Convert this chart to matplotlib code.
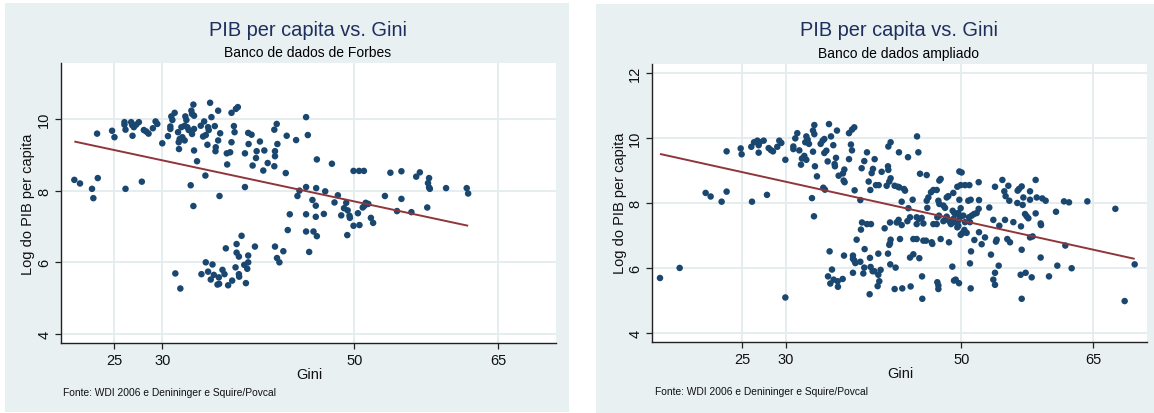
import matplotlib
matplotlib.use("Agg")
import matplotlib.pyplot as plt
from matplotlib.patches import Rectangle

plt.rcParams['font.family'] = ['Liberation Sans', 'DejaVu Sans']

# ---------------- data ----------------
title_text = "PIB per capita vs. Gini"
subtitles = ["Banco de dados de Forbes", "Banco de dados ampliado"]
x_label = "Gini"
y_label = "Log do PIB per capita"
source_note = "Fonte: WDI 2006 e Denininger e Squire/Povcal"

x_ticks = [25, 30, 50, 65]
y_ticks_left = [4, 6, 8, 10]
y_ticks_right = [4, 6, 8, 10, 12]

left_gini = [
    20.84, 21.43, 22.68, 22.82, 23.28, 23.21, 24.77, 25.02, 26.17, 26.06,
    26.06, 26.17, 26.76, 26.86, 27.04, 27.28, 27.56, 26.90, 27.87, 28.08,
    28.33, 28.57, 29.02, 29.30, 29.48, 30.00, 30.59, 30.84, 30.84, 30.94,
    31.05, 31.29, 31.74, 31.71, 31.81, 32.09, 32.33, 31.64, 31.99, 32.33,
    32.61, 32.75, 32.40, 32.51, 33.03, 33.10, 33.24, 33.31, 33.31, 33.10,
    33.31, 33.62, 32.96, 33.24, 34.01, 34.36, 34.77, 34.84, 34.25, 34.53,
    34.70, 34.98, 35.12, 35.47, 35.82, 36.03, 35.82, 35.57, 35.54, 34.49,
    35.96, 36.72, 37.07, 36.76, 37.21, 37.21, 37.67, 37.87, 37.46, 37.53,
    38.61, 38.61, 38.95, 39.30, 38.99, 39.41, 39.76, 39.83, 40.17, 40.52,
    40.63, 40.98, 41.67, 41.92, 41.74, 41.74, 41.67, 41.99, 42.86, 42.96,
    43.94, 44.98, 45.16, 46.10, 47.67, 44.98, 44.29, 44.08, 46.03, 46.97,
    48.29, 45.64, 45.99, 47.94, 48.64, 46.83, 45.99, 44.98, 43.28, 43.07,
    44.98, 45.75, 46.10, 45.30, 41.74, 41.95, 42.20, 42.61, 39.65, 38.26,
    37.74, 37.74, 37.98, 36.62, 38.95, 38.95, 38.54, 37.63, 38.85, 37.98,
    38.01, 38.71, 34.53, 35.23, 34.77, 34.08, 35.37, 35.89, 36.27, 36.48,
    35.05, 35.92, 35.75, 36.86, 37.28, 31.36, 31.88,
    48.93, 49.16, 49.31, 49.50, 49.54, 49.27, 49.92, 49.92, 50.50, 51.00,
    50.38, 50.54, 50.88, 51.19, 51.46, 51.07, 51.73, 51.96, 53.19, 53.76,
    54.45, 54.91, 54.91, 55.95, 56.45, 56.83, 57.60, 57.79, 57.68, 57.79,
    57.87, 59.56, 61.71, 61.86,
]
left_logpib = [
    8.30, 8.20, 8.05, 7.79, 8.35, 9.59, 9.67, 9.49, 8.05, 9.91,
    9.84, 9.70, 9.91, 9.83, 9.77, 9.84, 9.91, 9.53, 8.25, 9.69,
    9.65, 9.59, 9.74, 9.93, 9.86, 9.32, 9.52, 9.79, 9.72, 10.07,
    9.97, 10.17, 9.16, 9.35, 9.44, 9.49, 9.40, 9.63, 9.77, 9.81,
    9.77, 9.69, 10.07, 9.97, 10.23, 10.14, 10.40, 10.09, 9.72, 9.58,
    9.12, 8.82, 8.15, 7.57, 9.81, 9.93, 9.77, 9.69, 9.51, 9.55,
    9.28, 10.45, 10.05, 9.80, 10.23, 9.60, 9.40, 9.21, 9.10, 8.42,
    7.85, 9.04, 9.07, 8.73, 9.35, 10.17, 10.28, 10.33, 9.80, 9.63,
    9.04, 8.10, 9.61, 9.56, 9.30, 8.70, 8.91, 9.10, 9.37, 8.56,
    9.12, 8.77, 9.70, 9.86, 9.10, 8.96, 8.68, 9.30, 8.49, 9.53,
    9.41, 10.05, 9.55, 8.87, 8.75, 8.10, 8.00, 7.85, 8.07, 7.98,
    7.87, 7.74, 7.58, 7.67, 7.31, 7.35, 7.27, 7.34, 7.34, 6.90,
    6.86, 6.86, 6.73, 6.29, 6.44, 6.12, 6.00, 6.31, 6.44, 6.74,
    6.51, 6.27, 6.16, 6.39, 6.19, 6.00, 5.93, 5.86, 5.82, 5.67,
    5.60, 5.42, 6.00, 5.94, 5.74, 5.67, 5.65, 5.58, 5.79, 5.67,
    5.52, 5.40, 5.38, 5.36, 5.49, 5.69, 5.27,
    7.51, 7.66, 7.45, 7.30, 7.24, 6.76, 7.02, 8.55, 8.55, 8.55,
    7.37, 7.04, 7.53, 7.66, 7.63, 7.58, 7.24, 7.10, 7.85, 8.50,
    7.43, 8.54, 7.77, 7.40, 8.39, 8.51, 7.53, 8.35, 8.21, 8.09,
    8.05, 8.07, 8.07, 7.92,
]
left_fit_gini = [20.84, 61.86]
left_fit_logpib = [9.37, 7.02]

right_gini = [
    15.66, 17.90, 20.86, 21.43, 22.68, 23.25, 23.25, 24.85, 24.96, 26.14,
    26.06, 26.37, 26.75, 27.01, 26.90, 27.47, 26.90, 27.85, 28.04, 28.30,
    28.53, 29.02, 29.25, 29.48, 29.94, 29.94, 30.85, 30.85, 31.07, 31.30,
    31.53, 31.72, 31.83, 32.10, 32.33, 32.21, 32.33, 32.48, 32.63, 33.09,
    33.24, 33.24, 33.09, 33.31, 33.54, 32.97, 33.20, 33.96, 34.19, 34.38,
    34.38, 34.61, 34.76, 34.91, 35.14, 35.40, 35.82, 35.71, 35.55, 35.59,
    34.26, 34.45, 36.01, 36.50, 36.66, 36.58, 36.69, 37.19, 37.19, 37.53,
    37.79, 37.41, 37.53, 37.83, 38.48, 38.63, 38.93, 39.24, 39.43, 39.62,
    39.77, 39.92, 40.11, 40.26, 40.57, 40.91, 41.67, 41.63, 41.67, 41.93,
    41.48, 41.78, 41.93, 42.39, 42.77, 42.92, 42.88, 38.67, 39.24, 39.69,
    38.55, 41.25, 41.86, 42.62, 42.84, 38.06, 41.93, 41.86, 41.78, 34.98,
    36.62, 37.64, 37.64, 37.79, 37.91, 38.48, 38.97, 39.58, 40.53, 41.63,
    41.89, 42.50, 38.93, 39.65, 39.88, 40.07, 40.79, 40.53, 40.64, 40.45,
    39.54, 38.82, 37.64, 35.25, 34.80, 35.44, 35.90, 36.47, 35.06, 35.93,
    42.39, 43.26,
    44.94, 43.91, 45.09, 45.28, 46.04, 43.19, 43.46, 43.57, 43.95, 44.44,
    43.19, 43.00, 44.14, 43.84, 44.90, 45.16, 45.47, 44.90, 45.66, 46.11,
    46.04, 46.23, 46.53, 46.80, 47.18, 47.48, 47.63, 47.37, 47.48, 47.94,
    48.13, 48.32, 48.50, 49.07, 49.53, 49.91, 50.40, 50.90, 49.76, 50.02,
    49.76, 50.78, 51.05, 52.00, 51.96, 53.17, 53.82, 54.66, 54.88, 55.03,
    55.34, 55.45, 56.40, 56.55, 56.86, 56.36, 56.97, 57.05, 57.81, 57.81,
    58.45, 58.57, 59.21, 59.59, 61.68, 62.25, 64.34, 67.53, 60.77, 58.45,
    57.24, 57.43, 57.62, 59.02, 59.06, 54.96, 55.91, 56.78, 57.81, 58.11,
    61.83, 59.02, 60.92, 62.55, 69.73, 68.59, 56.86, 56.86, 56.74, 57.31,
    58.00, 59.97, 54.24, 53.82, 53.63, 53.82, 53.36, 53.93, 54.01, 55.22,
    55.53, 53.63, 54.31, 52.68, 52.00, 52.30, 51.47, 51.09, 50.97, 51.05,
    50.33, 50.59, 50.10, 49.91, 49.64, 49.53, 49.26, 49.64, 49.07, 49.83,
    50.21, 50.86, 51.16, 51.43, 51.73, 51.96, 50.97, 50.40, 49.00, 49.19,
    49.45, 49.64, 49.91, 48.69, 48.81, 48.32, 48.13, 47.94, 47.44, 47.25,
    47.18, 46.80, 47.63, 48.58, 45.96, 46.61, 46.68, 45.66, 44.90, 44.52,
    44.14, 44.52, 45.20, 45.51, 45.54, 44.21, 47.25, 47.37, 47.37, 48.96,
    49.15, 49.34, 49.72,
]
right_logpib = [
    5.69, 6.00, 8.31, 8.20, 8.04, 8.35, 9.59, 9.68, 9.50, 8.04,
    9.73, 9.87, 9.92, 9.87, 9.78, 9.92, 9.55, 8.25, 9.69, 9.63,
    9.59, 9.73, 9.92, 9.85, 9.33, 5.09, 9.66, 9.74, 9.99, 10.15,
    9.62, 9.18, 9.37, 9.45, 9.33, 9.87, 10.05, 9.95, 9.82, 10.23,
    10.12, 10.40, 9.58, 9.13, 8.82, 8.15, 7.59, 9.82, 9.92, 9.97,
    9.54, 9.61, 9.28, 10.43, 10.05, 9.78, 10.23, 9.39, 9.20, 9.13,
    8.47, 8.41, 8.84, 8.91, 9.03, 8.69, 8.64, 9.35, 10.15, 10.26,
    10.33, 9.80, 9.62, 8.39, 8.09, 9.07, 9.29, 9.56, 8.66, 8.40,
    8.92, 9.05, 9.35, 8.55, 8.55, 8.96, 9.02, 9.13, 9.74, 9.87,
    8.53, 8.66, 8.76, 8.53, 8.50, 8.48, 9.56, 7.40, 7.35, 7.35,
    7.18, 7.22, 7.40, 7.40, 7.48, 6.87, 6.87, 6.76, 6.71, 6.51,
    6.38, 6.38, 6.28, 6.23, 6.15, 6.19, 6.58, 6.31, 6.44, 6.44,
    6.11, 6.01, 6.01, 6.03, 5.90, 5.90, 5.94, 5.79, 5.59, 5.44,
    5.19, 5.83, 5.85, 5.95, 5.74, 5.64, 5.59, 5.66, 5.52, 5.42,
    5.35, 5.37,
    10.05, 9.41, 9.56, 8.90, 8.86, 8.04, 8.43, 8.38, 7.84, 8.10,
    7.32, 6.89, 7.56, 7.44, 7.56, 7.51, 7.54, 7.35, 7.37, 7.85,
    8.07, 8.17, 8.33, 8.40, 8.40, 8.69, 8.74, 8.07, 7.97, 7.92,
    7.85, 8.17, 8.21, 8.31, 8.50, 8.55, 8.55, 8.55, 8.97, 8.94,
    8.10, 8.07, 8.10, 8.09, 8.64, 7.86, 8.50, 8.71, 8.36, 8.21,
    8.53, 8.07, 8.38, 8.43, 8.51, 8.00, 7.94, 8.17, 8.10, 8.36,
    8.71, 8.17, 8.14, 8.07, 8.05, 8.02, 8.05, 7.82, 7.73, 7.68,
    7.66, 7.59, 7.53, 7.37, 7.32, 7.48, 7.41, 7.28, 6.94, 6.97,
    6.69, 6.32, 6.07, 5.99, 6.11, 4.98, 5.05, 6.56, 5.79, 5.85,
    5.71, 5.74, 6.07, 5.85, 5.64, 5.48, 6.41, 6.81, 6.87, 6.89,
    6.79, 7.48, 7.30, 6.94, 7.10, 6.73, 6.86, 6.51, 6.14, 5.37,
    7.17, 7.08, 7.07, 7.02, 7.30, 7.25, 7.41, 7.46, 7.51, 7.56,
    7.61, 7.56, 7.61, 7.66, 7.69, 7.82, 7.41, 7.41, 7.76, 7.69,
    7.66, 7.69, 7.84, 7.41, 7.35, 7.58, 7.48, 7.44, 7.61, 7.56,
    7.35, 7.35, 6.89, 6.79, 6.84, 6.79, 6.74, 6.84, 6.89, 6.89,
    6.32, 6.42, 6.30, 5.74, 5.05, 5.43, 5.56, 5.46, 5.35, 6.04,
    5.61, 5.64, 5.53,
]
right_fit_gini = [15.66, 69.73]
right_fit_logpib = [9.51, 6.28]

# ---------------- style ----------------
W, H = 1154, 414
BG = '#E8F0F2'
GRID = '#E3ECEE'
MARKER = '#1A476F'
FIT = '#90353B'
TITLE_C = '#1E2F5E'
AXC = '#222222'

fig = plt.figure(figsize=(W / 100, H / 100), dpi=100)


def fx(px):
    return px / W


def fy(py):
    return 1 - py / H


def panel(bg_box, ax_box, xlim, ylim, yticks, gini, logpib, fit_x, fit_y,
          subtitle, title_xy, sub_xy, xlab_xy, ylab_xy, src_xy):
    x0, y0, x1, y1 = bg_box
    fig.patches.append(Rectangle((fx(x0), fy(y1)), fx(x1) - fx(x0), fy(y0) - fy(y1),
                                 transform=fig.transFigure, facecolor=BG,
                                 edgecolor='none', zorder=-10))
    l, t, r, b = ax_box
    ax = fig.add_axes([fx(l), fy(b), fx(r) - fx(l), fy(t) - fy(b)])
    ax.set_zorder(5)
    ax.set_facecolor('white')
    ax.set_xlim(*xlim)
    ax.set_ylim(*ylim)
    ax.set_xticks(x_ticks)
    ax.set_xticklabels([str(v) for v in x_ticks])
    ax.set_yticks(yticks)
    ax.set_yticklabels([str(v) for v in yticks], rotation=90, va='center')
    for s in ['top', 'right']:
        ax.spines[s].set_visible(False)
    for s in ['left', 'bottom']:
        ax.spines[s].set_color(AXC)
        ax.spines[s].set_linewidth(1.0)
    ax.tick_params(axis='both', direction='out', length=4, width=0.9,
                   color=AXC, labelsize=10.5, labelcolor='#111111')
    ax.tick_params(axis='x', pad=3)
    ax.tick_params(axis='y', pad=3)
    ax.grid(True, color=GRID, lw=1.3, zorder=0)
    ax.set_axisbelow(True)
    ax.scatter(gini, logpib, s=22, color=MARKER, edgecolors='none', zorder=3)
    ax.plot(fit_x, fit_y, color=FIT, lw=1.4, zorder=4, solid_capstyle='butt')

    fig.text(fx(title_xy[0]), fy(title_xy[1]), title_text, ha='center', va='center',
             fontsize=14.4, color=TITLE_C)
    fig.text(fx(sub_xy[0]), fy(sub_xy[1]), subtitle, ha='center', va='center',
             fontsize=10, color='black')
    fig.text(fx(xlab_xy[0]), fy(xlab_xy[1]), x_label, ha='center', va='center',
             fontsize=10.5, color='#111111')
    fig.text(fx(ylab_xy[0]), fy(ylab_xy[1]), y_label, ha='center', va='center',
             rotation=90, fontsize=10.5, color='#111111')
    fig.text(fx(src_xy[0]), fy(src_xy[1]), source_note, ha='left', va='center',
             fontsize=7.4, color='#111111')
    return ax


panel((5, 4, 569, 413), (61, 64, 555.7, 344), (19.45, 70.98), (3.75, 11.56),
      y_ticks_left, left_gini, left_logpib, left_fit_gini, left_fit_logpib,
      subtitles[0], (308, 30), (308, 53), (309, 375), (28, 204), (63, 393))

panel((596, 4.7, 1154, 414), (652, 65, 1146.7, 343.3), (14.75, 71.1), (3.71, 12.28),
      y_ticks_right, right_gini, right_logpib, right_fit_gini, right_fit_logpib,
      subtitles[1], (899, 31), (899, 54), (900, 374), (620, 203), (655, 392))

fig.savefig('out.png', dpi=100)
